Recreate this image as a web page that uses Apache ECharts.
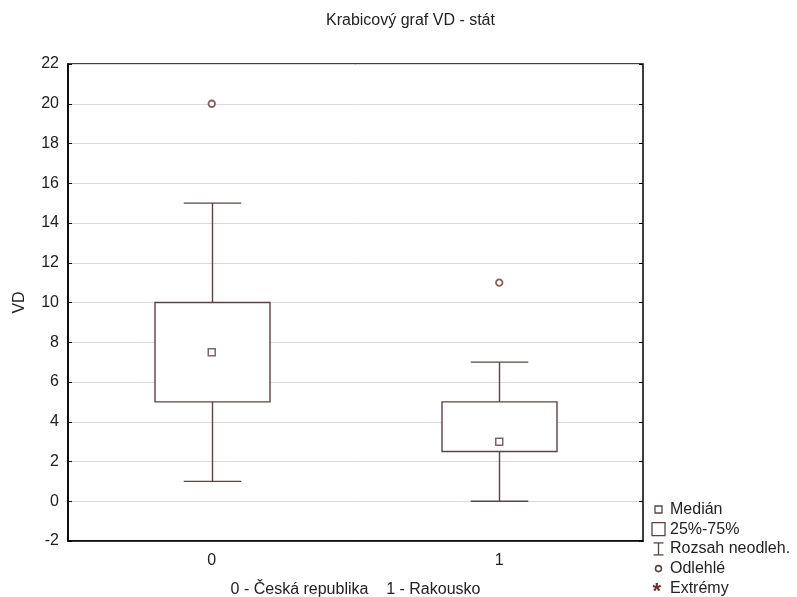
<!DOCTYPE html>
<html>
<head>
<meta charset="utf-8">
<style>
  html, body { margin: 0; padding: 0; background: #fff; }
  #chart { width: 797px; height: 597px; }
</style>
<script src="https://cdn.jsdelivr.net/npm/echarts@6/dist/echarts.min.js"></script>
</head>
<body>
<div id="chart"></div>
<script>
// Box plot of VD by country (0 - Czech Republic, 1 - Austria)
const categories = ['0', '1'];
const whiskerLow = [1, 0];
const quartile1 = [5, 2.5];
const medians = [7.5, 3];
const quartile3 = [10, 5];
const whiskerHigh = [15, 7];
const outliers = [[0, 20], [1, 11]];
const yTicks = { min: -2, max: 22, step: 2 };

const lineColor = '#5a4444';
const font = 'Arial, "Liberation Sans", sans-serif';

const boxData = categories.map((c, i) => [i, whiskerLow[i], quartile1[i], medians[i], quartile3[i], whiskerHigh[i]]);
const medianData = categories.map((c, i) => [i, medians[i]]);

function renderBox(params, api) {
  const x = api.value(0);
  const band = api.size([1, 0])[0];
  const boxW = band * 0.4;
  const capW = band * 0.2;
  const pLow = api.coord([x, api.value(1)]);
  const pQ1 = api.coord([x, api.value(2)]);
  const pQ3 = api.coord([x, api.value(4)]);
  const pHigh = api.coord([x, api.value(5)]);
  const cx = Math.round(pLow[0]) + 0.5;
  const style = { stroke: lineColor, lineWidth: 1.4, fill: null };
  return {
    type: 'group',
    children: [
      { type: 'rect', shape: { x: cx - boxW / 2, y: pQ3[1], width: boxW, height: pQ1[1] - pQ3[1] }, style: Object.assign({}, style, { fill: '#fff' }) },
      { type: 'line', shape: { x1: cx, y1: pQ3[1], x2: cx, y2: pHigh[1] }, style },
      { type: 'line', shape: { x1: cx, y1: pQ1[1], x2: cx, y2: pLow[1] }, style },
      { type: 'line', shape: { x1: cx - capW / 2, y1: pHigh[1], x2: cx + capW / 2, y2: pHigh[1] }, style },
      { type: 'line', shape: { x1: cx - capW / 2, y1: pLow[1], x2: cx + capW / 2, y2: pLow[1] }, style }
    ]
  };
}

// Legend rows (symbol + caption), drawn at the lower right corner
const legendX = 658.5, legendTextX = 670, legendY0 = 509.5, legendStep = 19.7;
const legendLabels = ['Medián', '25%-75%', 'Rozsah neodleh.', 'Odlehlé', 'Extrémy'];
const legendGraphics = [];
legendLabels.forEach((t, i) => {
  legendGraphics.push({ type: 'text', left: legendTextX, top: legendY0 + i * legendStep - 8,
    style: { text: t, font: '16px ' + font, fill: '#222' } });
});
const ly = i => legendY0 + i * legendStep;
const ls = { stroke: lineColor, lineWidth: 1.3, fill: null };
legendGraphics.push(
  { type: 'rect', shape: { x: legendX - 3.5, y: ly(0) - 3.5, width: 7, height: 7 }, style: ls },
  { type: 'rect', shape: { x: legendX - 6.5, y: ly(1) - 6.5, width: 13, height: 13 }, style: ls },
  { type: 'line', shape: { x1: legendX, y1: ly(2) - 6, x2: legendX, y2: ly(2) + 6 }, style: ls },
  { type: 'line', shape: { x1: legendX - 5, y1: ly(2) - 6, x2: legendX + 5, y2: ly(2) - 6 }, style: ls },
  { type: 'line', shape: { x1: legendX - 5, y1: ly(2) + 6, x2: legendX + 5, y2: ly(2) + 6 }, style: ls },
  { type: 'circle', shape: { cx: legendX, cy: ly(3), r: 3 }, style: Object.assign({}, ls, { lineWidth: 1.6 }) },
  { type: 'text', left: legendX - 6, top: ly(4) - 7, style: { text: '*', font: 'bold 22px ' + font, fill: '#6b2f2f' } }
);

const chart = echarts.init(document.getElementById('chart'), null, { renderer: 'canvas' });
chart.setOption({
  backgroundColor: '#fff',
  animation: false,
  title: {
    text: 'Krabicový graf VD - stát',
    left: 321, top: 8,
    textStyle: { fontSize: 16, fontWeight: 'normal', color: '#222', fontFamily: font }
  },
  grid: {
    left: 68, right: 154, top: 64, bottom: 56,
    containLabel: false, outerBoundsMode: 'none',
    show: true, borderColor: '#000', borderWidth: 1.5, backgroundColor: 'transparent'
  },
  xAxis: [{
    type: 'category', data: categories, boundaryGap: true, position: 'bottom',
    name: '0 - Česká republika    1 - Rakousko', nameLocation: 'middle', nameGap: 41,
    nameTextStyle: { fontSize: 16, color: '#222', fontFamily: font },
    axisLine: { onZero: false, lineStyle: { color: '#000', width: 1.5 } },
    axisTick: { inside: true, alignWithLabel: true, length: 4, lineStyle: { color: '#000' } },
    axisLabel: { fontSize: 16, color: '#222', fontFamily: font, margin: 12 },
    splitLine: { show: false }
  }, {
    type: 'category', data: categories, boundaryGap: true, position: 'top',
    axisLine: { show: false, onZero: false },
    axisTick: { inside: true, alignWithLabel: true, length: 4, lineStyle: { color: '#000' } },
    axisLabel: { show: false }
  }],
  yAxis: [{
    type: 'value', min: yTicks.min, max: yTicks.max, interval: yTicks.step,
    name: 'VD', nameLocation: 'middle', nameGap: 40, nameRotate: 90,
    nameTextStyle: { fontSize: 16, color: '#222', fontFamily: font },
    axisLine: { show: true, onZero: false, lineStyle: { color: '#000', width: 1.5 } },
    axisTick: { show: true, inside: true, length: 4, lineStyle: { color: '#000' } },
    axisLabel: { fontSize: 16, color: '#222', fontFamily: font, margin: 9 },
    splitLine: { show: true, lineStyle: { color: '#d9d9d9', width: 1 } }
  }, {
    type: 'value', min: yTicks.min, max: yTicks.max, interval: yTicks.step, position: 'right',
    axisLine: { show: false },
    axisTick: { show: true, inside: true, length: 4, lineStyle: { color: '#000' } },
    axisLabel: { show: false },
    splitLine: { show: false }
  }],
  graphic: legendGraphics,
  series: [{
    type: 'custom',
    renderItem: renderBox,
    data: boxData,
    encode: { x: 0, y: [1, 2, 3, 4, 5] },
    z: 3
  }, {
    type: 'scatter',
    data: medianData,
    symbol: 'rect', symbolSize: 7,
    itemStyle: { color: '#fff', borderColor: lineColor, borderWidth: 1.5 },
    z: 4
  }, {
    type: 'scatter',
    data: outliers,
    symbol: 'circle', symbolSize: 6.5,
    itemStyle: { color: '#fff', borderColor: '#6b3434', borderWidth: 1.8 },
    z: 4
  }]
});
</script>
</body>
</html>
